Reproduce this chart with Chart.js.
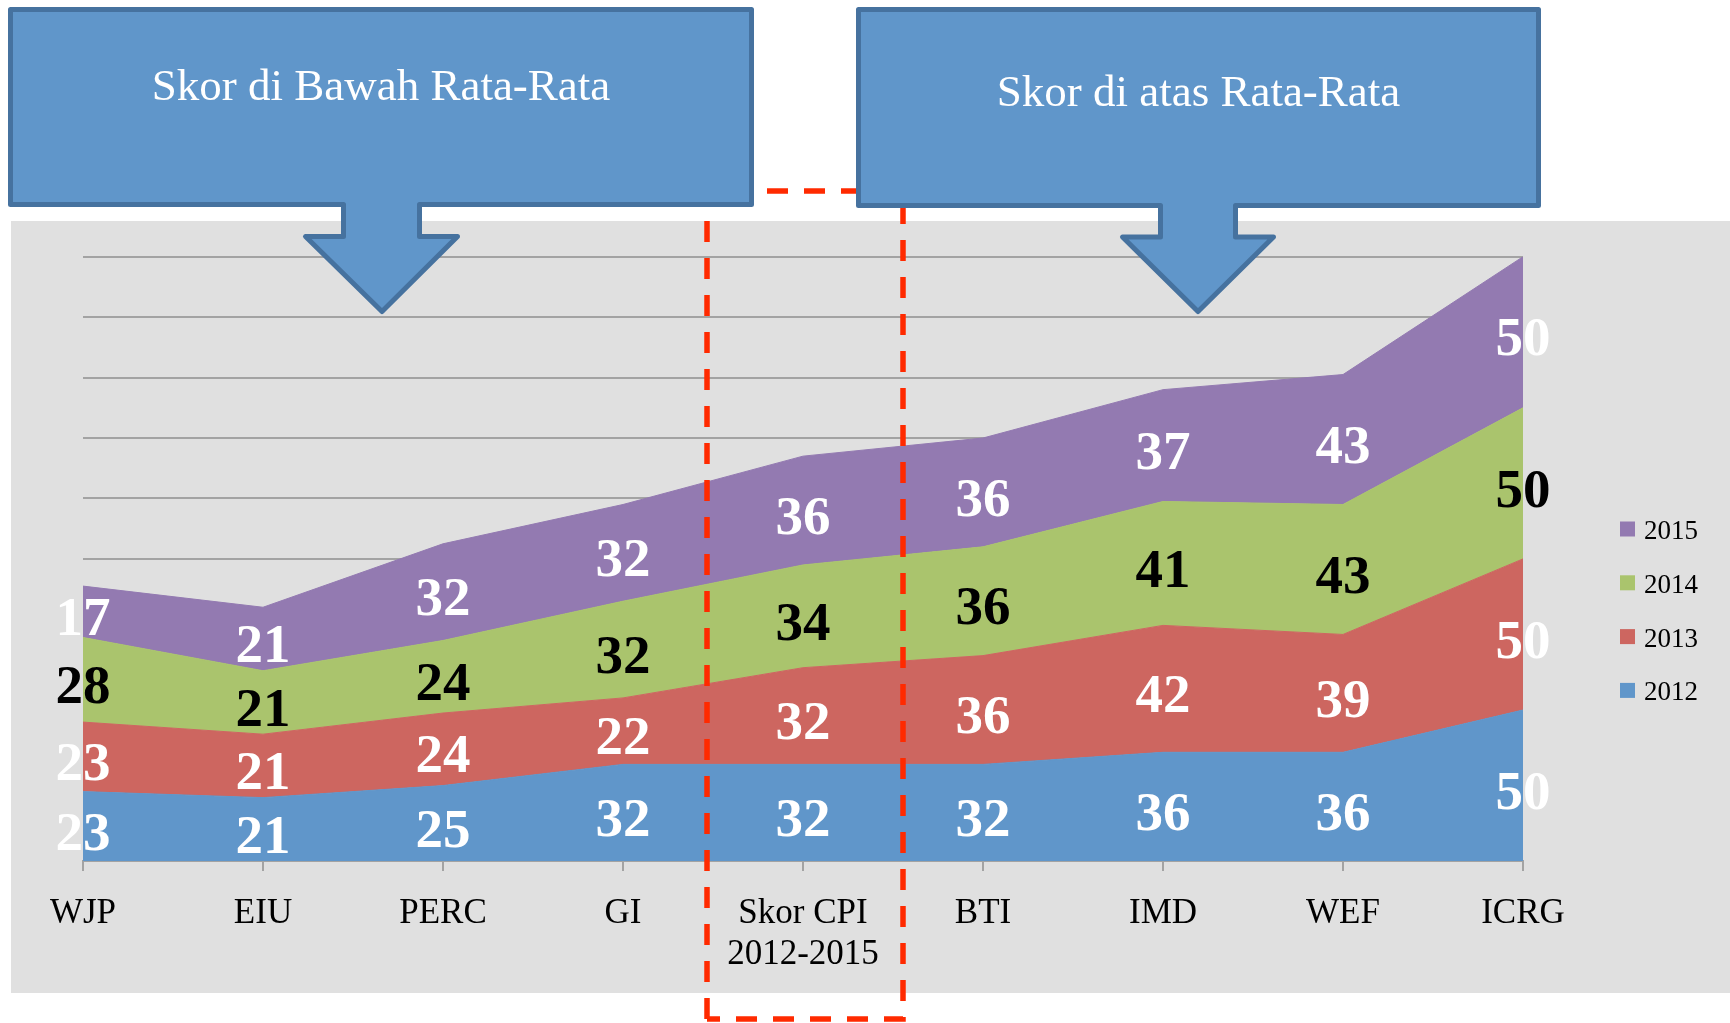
<!DOCTYPE html>
<html>
<head>
<meta charset="utf-8">
<script src="https://cdn.jsdelivr.net/npm/chart.js@4"></script>
<style>
  html, body { margin: 0; padding: 0; background: #ffffff; }
  #wrap { position: relative; width: 1730px; height: 1023px; }
</style>
</head>
<body>
<div id="wrap"><canvas id="cpiChart"></canvas></div>
<script>
// data
const categories = ['WJP', 'EIU', 'PERC', 'GI', ['Skor CPI', '2012-2015'], 'BTI', 'IMD', 'WEF', 'ICRG'];
const years = ['2012', '2013', '2014', '2015'];
const score2012 = [23, 21, 25, 32, 32, 32, 36, 36, 50];
const score2013 = [23, 21, 24, 22, 32, 36, 42, 39, 50];
const score2014 = [28, 21, 24, 32, 34, 36, 41, 43, 50];
const score2015 = [17, 21, 32, 32, 36, 36, 37, 43, 50];
const yMax = 200;
const yStep = 20;
const calloutTexts = ['Skor di Bawah Rata-Rata', 'Skor di atas Rata-Rata'];

const seriesValues = [score2012, score2013, score2014, score2015];
const seriesColors = ['#6096CA', '#CD6660', '#AAC46D', '#937AB1'];
const labelColors = ['#ffffff', '#ffffff', '#000000', '#ffffff'];

const serif = '"Liberation Serif", "Times New Roman", serif';
const gridGray = '#A3A3A3';

// gray panel behind the plot
const panelPlugin = {
    id: 'panel',
    beforeDraw(chart) {
        const ctx = chart.ctx;
        ctx.save();
        ctx.fillStyle = '#E0E0E0';
        ctx.fillRect(11, 221, chart.width - 11, 772);
        ctx.restore();
    }
};

// numbers in the middle of every band
const bandLabelPlugin = {
    id: 'bandLabels',
    afterDatasetsDraw(chart) {
        const ctx = chart.ctx;
        const xs = chart.scales.x;
        const ys = chart.scales.y;
        ctx.save();
        ctx.font = 'bold 55px ' + serif;
        ctx.textAlign = 'center';
        ctx.textBaseline = 'middle';
        chart.data.datasets.forEach((ds, i) => {
            ds.data.forEach((v, j) => {
                let base = 0;
                for (let k = 0; k < i; k++) base += chart.data.datasets[k].data[j];
                const x = xs.getPixelForValue(j);
                const y = ys.getPixelForValue(base + v / 2);
                ctx.fillStyle = labelColors[i];
                ctx.fillText(String(v), x, y + 9);
            });
        });
        ctx.restore();
    }
};

function calloutPath(ctx, b) {
    ctx.beginPath();
    ctx.moveTo(b.l, b.t);
    ctx.lineTo(b.r, b.t);
    ctx.lineTo(b.r, b.b);
    ctx.lineTo(b.sr, b.b);
    ctx.lineTo(b.sr, b.sh);
    ctx.lineTo(b.hr, b.sh);
    ctx.lineTo(b.tx, b.ty);
    ctx.lineTo(b.hl, b.sh);
    ctx.lineTo(b.sl, b.sh);
    ctx.lineTo(b.sl, b.b);
    ctx.lineTo(b.l, b.b);
    ctx.closePath();
}

// dashed frame, the two callouts and the legend
const decorPlugin = {
    id: 'decor',
    afterDraw(chart) {
        const ctx = chart.ctx;
        ctx.save();

        ctx.strokeStyle = '#FF2A00';
        ctx.lineWidth = 5.5;
        ctx.setLineDash([21, 16]);
        ctx.beginPath();
        ctx.moveTo(707, 1019);
        ctx.lineTo(707, 191);
        ctx.lineTo(903, 191);
        ctx.lineTo(903, 1019);
        ctx.lineTo(707, 1019);
        ctx.stroke();
        ctx.setLineDash([]);

        const boxes = [
            {l: 10.5, t: 9.5, r: 751.5, b: 204.5, sl: 343.5, sr: 419.5, sh: 236.5, hl: 305.5, hr: 457.5, tx: 382, ty: 311.5, textY: 100},
            {l: 858.5, t: 9.5, r: 1538.5, b: 205.5, sl: 1160.5, sr: 1235.5, sh: 237, hl: 1122.5, hr: 1273.5, tx: 1198, ty: 311.5, textY: 106}
        ];
        boxes.forEach((b, i) => {
            calloutPath(ctx, b);
            ctx.fillStyle = '#6096CA';
            ctx.fill();
            ctx.lineJoin = 'round';
            ctx.lineWidth = 5;
            ctx.strokeStyle = '#46729F';
            ctx.stroke();
            ctx.fillStyle = '#ffffff';
            ctx.font = '45px ' + serif;
            ctx.textAlign = 'center';
            ctx.textBaseline = 'alphabetic';
            ctx.fillText(calloutTexts[i], (b.l + b.r) / 2, b.textY);
        });

        // legend, newest year on top
        ctx.font = '27px ' + serif;
        ctx.textAlign = 'left';
        ctx.textBaseline = 'middle';
        const order = chart.data.datasets.map((d, i) => i).reverse();
        order.forEach((i, row) => {
            const cy = 529 + row * 53.8;
            ctx.fillStyle = seriesColors[i];
            ctx.fillRect(1620, cy - 7.5, 15, 15);
            ctx.fillStyle = '#000000';
            ctx.fillText(chart.data.datasets[i].label, 1644, cy + 3);
        });

        ctx.restore();
    }
};

const datasets = years.map((yr, i) => ({
    label: yr,
    data: seriesValues[i],
    backgroundColor: seriesColors[i],
    borderColor: seriesColors[i],
    borderWidth: 1,
    fill: i === 0 ? 'origin' : '-1',
    pointRadius: 0,
    tension: 0
}));

new Chart(document.getElementById('cpiChart').getContext('2d'), {
    type: 'line',
    data: { labels: categories, datasets: datasets },
    options: {
        responsive: true,
        maintainAspectRatio: false,
        animation: false,
        layout: { padding: { left: 83, right: 207, top: 256.7, bottom: 26 } },
        plugins: {
            legend: { display: false },
            tooltip: { enabled: false }
        },
        scales: {
            x: {
                offset: false,
                border: { display: true, color: gridGray, width: 2 },
                grid: { drawOnChartArea: false, drawTicks: true, tickLength: 10, color: gridGray, lineWidth: 2 },
                ticks: {
                    color: '#000000',
                    font: { family: serif, size: 35, lineHeight: 1.17 },
                    padding: 22,
                    maxRotation: 0,
                    autoSkip: false
                }
            },
            y: {
                stacked: true,
                min: 0,
                max: yMax,
                border: { display: false },
                grid: { color: gridGray, lineWidth: 2, drawTicks: false },
                ticks: { display: false, stepSize: yStep }
            }
        }
    },
    plugins: [panelPlugin, bandLabelPlugin, decorPlugin]
});
</script>
</body>
</html>
